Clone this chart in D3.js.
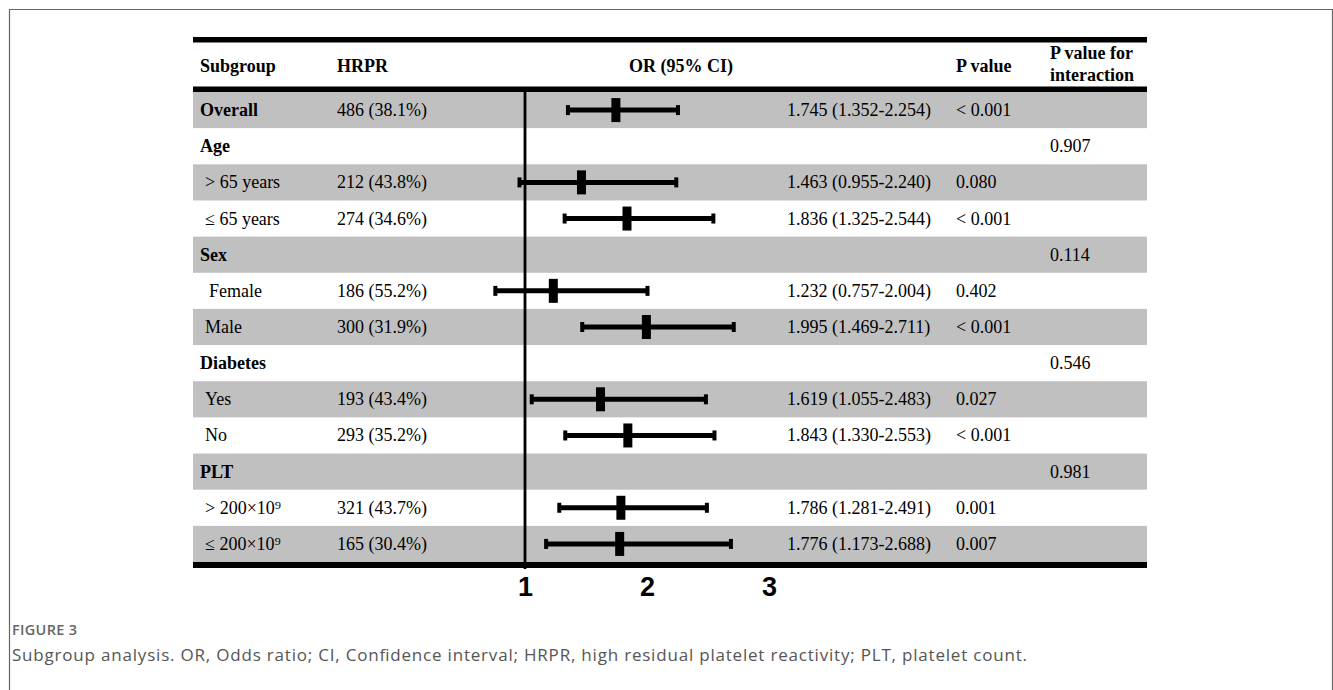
<!DOCTYPE html>
<html><head><meta charset="utf-8">
<script src="https://cdn.jsdelivr.net/npm/d3@7"></script>
<style>
html,body{margin:0;padding:0;background:#fff;}
svg{display:block;}
</style></head>
<body>
<svg id="chart" width="1333" height="690"></svg>
<script>
// ---- data ----
const subgroups = ["Overall","Age","> 65 years","\u2264 65 years","Sex","Female","Male","Diabetes","Yes","No","PLT","> 200\u00d710\u2079","\u2264 200\u00d710\u2079"];
const isHeader  = [true,true,false,false,true,false,false,true,false,false,true,false,false];
const hrpr      = ["486 (38.1%)","","212 (43.8%)","274 (34.6%)","","186 (55.2%)","300 (31.9%)","","193 (43.4%)","293 (35.2%)","","321 (43.7%)","165 (30.4%)"];
const orValue   = [1.745,null,1.463,1.836,null,1.232,1.995,null,1.619,1.843,null,1.786,1.776];
const ciLow     = [1.352,null,0.955,1.325,null,0.757,1.469,null,1.055,1.330,null,1.281,1.173];
const ciHigh    = [2.254,null,2.240,2.544,null,2.004,2.711,null,2.483,2.553,null,2.491,2.688];
const orText    = ["1.745 (1.352-2.254)","","1.463 (0.955-2.240)","1.836 (1.325-2.544)","","1.232 (0.757-2.004)","1.995 (1.469-2.711)","","1.619 (1.055-2.483)","1.843 (1.330-2.553)","","1.786 (1.281-2.491)","1.776 (1.173-2.688)"];
const pValue    = ["< 0.001","","0.080","< 0.001","","0.402","< 0.001","","0.027","< 0.001","","0.001","0.007"];
const pInter    = ["","0.907","","","0.114","","","0.546","","","0.981","",""];
const axisTicks = [1,2,3];
const headers   = ["Subgroup","HRPR","OR (95% CI)","P value"];

// ---- layout ----
const svg = d3.select("#chart");
const tableL = 193, tableR = 1147;
const rowTop = 92, rowBottom = 562;
const y = d3.scaleBand().domain(d3.range(subgroups.length)).range([rowTop,rowBottom]).padding(0);
const x = d3.scaleLinear().domain([1,3]).range([525,769]);
const serif = "'Liberation Serif','Times New Roman',serif";

// frame
svg.append("path").attr("d","M9.5,690 V9.5 H1332.5 V690").attr("fill","none").attr("stroke","#666").attr("stroke-width",1.2);

// row backgrounds
svg.append("g").selectAll("rect").data(subgroups).join("rect")
  .attr("x",tableL).attr("width",tableR-tableL)
  .attr("y",(d,i)=>y(i)).attr("height",y.bandwidth()+0.5)
  .attr("fill",(d,i)=> i%2===0 ? "#c0c0c0" : "#ffffff");

// rules
svg.append("rect").attr("x",tableL).attr("width",tableR-tableL).attr("y",37).attr("height",5.5).attr("fill","#000");
svg.append("rect").attr("x",tableL).attr("width",tableR-tableL).attr("y",86.5).attr("height",5.5).attr("fill","#000");
svg.append("rect").attr("x",tableL).attr("width",tableR-tableL).attr("y",rowBottom).attr("height",6).attr("fill","#000");

// header text
const hx = [200,337,681,956];
headers.forEach((h,i)=>{
  svg.append("text").attr("x",hx[i]).attr("y",72)
    .attr("text-anchor", i===2 ? "middle" : "start")
    .attr("font-family",serif).attr("font-weight","bold").attr("font-size",18).text(h);
});
svg.append("text").attr("x",1050).attr("y",59).attr("font-family",serif).attr("font-weight","bold").attr("font-size",18).text("P value for");
svg.append("text").attr("x",1050).attr("y",81).attr("font-family",serif).attr("font-weight","bold").attr("font-size",18).text("interaction");

// row text
const rows = svg.append("g").attr("font-family",serif).attr("font-size",18).attr("fill","#000");
const base = i => y(i)+y.bandwidth()/2+6;
rows.selectAll("text.sg").data(subgroups).join("text")
  .attr("x",(d,i)=> isHeader[i] ? 200 : (d==="Female" ? 209 : 205))
  .attr("y",(d,i)=>base(i))
  .attr("font-weight",(d,i)=> isHeader[i] ? "bold":"normal")
  .text(d=>d);
rows.selectAll("text.hr").data(hrpr).join("text").attr("x",337).attr("y",(d,i)=>base(i)).text(d=>d);
rows.selectAll("text.or").data(orText).join("text").attr("x",787).attr("y",(d,i)=>base(i)).text(d=>d);
rows.selectAll("text.pv").data(pValue).join("text").attr("x",956).attr("y",(d,i)=>base(i)).text(d=>d);
rows.selectAll("text.pi").data(pInter).join("text").attr("x",1050).attr("y",(d,i)=>base(i)).text(d=>d);

// reference line at OR=1
svg.append("line").attr("x1",x(1)).attr("x2",x(1)).attr("y1",rowTop).attr("y2",569)
  .attr("stroke","#000").attr("stroke-width",2.8);

// forest marks
const idx = d3.range(subgroups.length).filter(i=>orValue[i]!==null);
const fg = svg.append("g");
idx.forEach(i=>{
  const cy = y(i)+y.bandwidth()/2;
  fg.append("line").attr("x1",x(ciLow[i])).attr("x2",x(ciHigh[i])).attr("y1",cy).attr("y2",cy)
    .attr("stroke","#000").attr("stroke-width",5);
  [ciLow[i],ciHigh[i]].forEach(v=>{
    fg.append("rect").attr("x",x(v)-2).attr("width",4).attr("y",cy-5).attr("height",10).attr("fill","#000");
  });
  fg.append("rect").attr("x",x(orValue[i])-4.5).attr("width",9).attr("y",cy-12).attr("height",24).attr("fill","#000");
});

// axis
const axis = d3.axisBottom(x).tickValues(axisTicks).tickFormat(d3.format("d")).tickSize(0).tickPadding(0);
const ag = svg.append("g").attr("transform","translate(0,577)").call(axis);
ag.select(".domain").remove();
ag.selectAll("text")
  .attr("font-family","'Liberation Sans Narrow','Arial Narrow','Liberation Sans',Arial,sans-serif")
  .attr("font-weight","bold").attr("font-size",27).attr("fill","#000")
  .attr("dy","0.71em");

// caption
svg.append("text").attr("x",12).attr("y",635).attr("font-family","'Open Sans',sans-serif")
  .attr("font-weight",600).attr("font-size",14.5).attr("fill","#666").attr("letter-spacing",0.3).text("FIGURE 3");
svg.append("text").attr("x",12).attr("y",661).attr("font-family","'Open Sans',sans-serif")
  .attr("font-size",17).attr("fill","#555")
  .attr("textLength",1015).attr("lengthAdjust","spacing")
  .text("Subgroup analysis. OR, Odds ratio; CI, Confidence interval; HRPR, high residual platelet reactivity; PLT, platelet count.");
</script>
</body></html>
